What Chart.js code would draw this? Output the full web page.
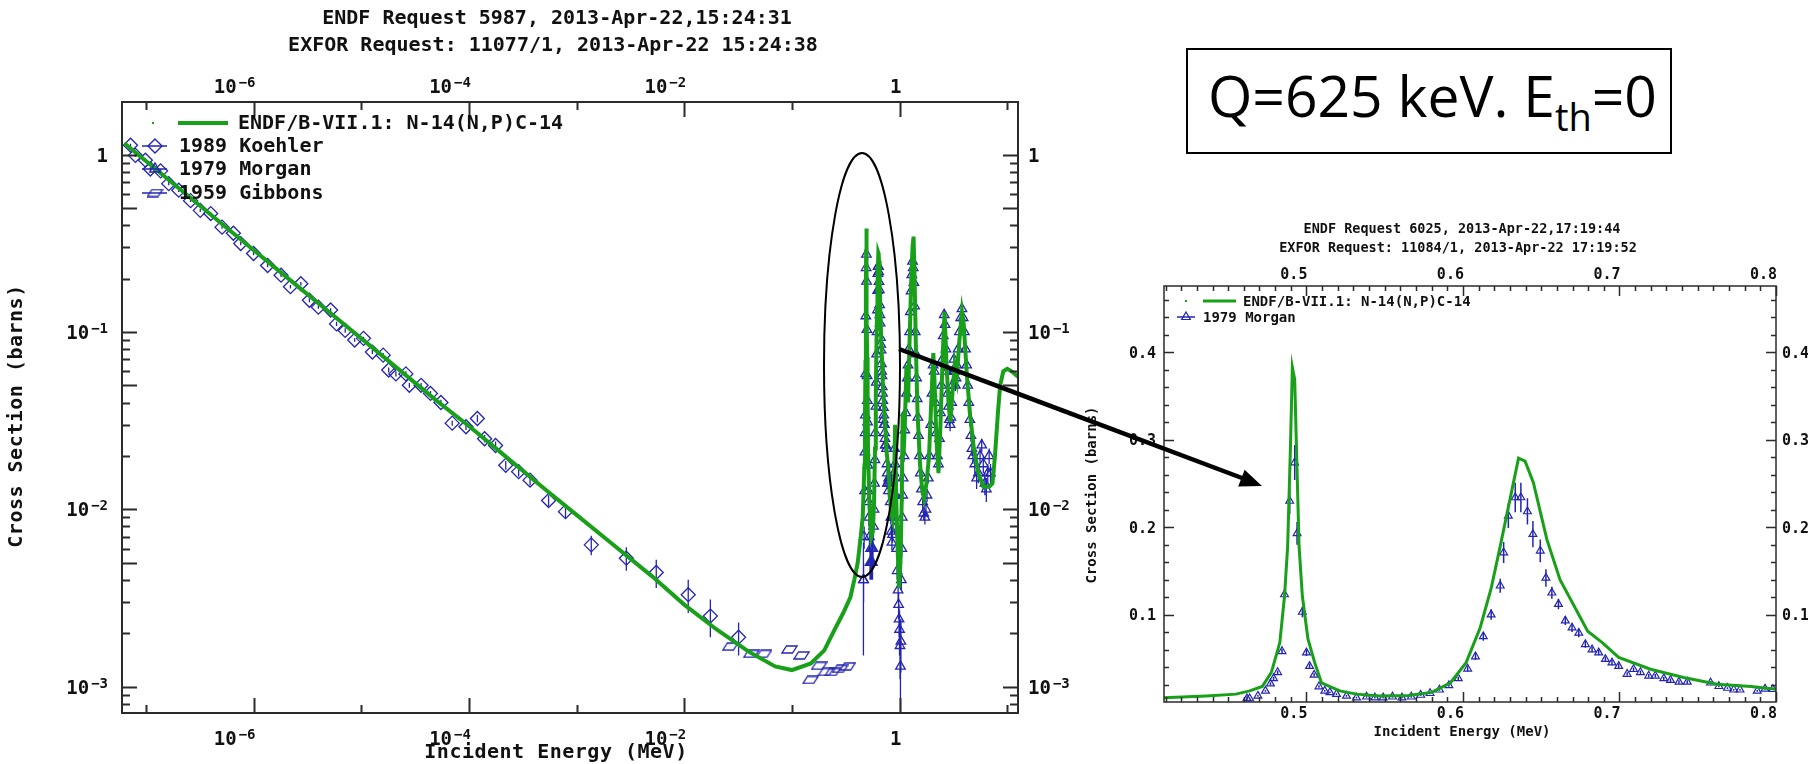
<!DOCTYPE html>
<html lang="en">
<head>
  <meta charset="UTF-8" />
  <title>N-14(n,p)C-14 cross section</title>
  <script src="https://cdn.jsdelivr.net/npm/chart.js"></script>
  <style>
    body { margin: 0; background: #fff; }
    #page { position: relative; width: 1808px; height: 764px; overflow: hidden; background: #fff; }
    #wide { position: absolute; left: 0; top: 0; }
    #zoom { position: absolute; left: 1080px; top: 200px; }
    #qbox { position: absolute; left: 1186px; top: 48px; width: 486px; height: 106px; border: 2px solid #000; box-sizing: border-box; }
    #qtext { position: absolute; left: 1208px; top: 67px; font: 57px/57px "Open Sans", "Noto Sans", sans-serif; white-space: nowrap; color: #000; }
    #qtext sub { font-size: 38px; line-height: 57px; vertical-align: -14px; }
    #marks { position: absolute; left: 0; top: 0; pointer-events: none; }
  </style>
</head>
<body>
<div id="page">
  <canvas id="wide" width="1100" height="764"></canvas>
  <canvas id="zoom" width="728" height="564"></canvas>
  <div id="qbox"></div>
  <div id="qtext">Q=625 keV. E<sub>th</sub>=0</div>
  <svg id="marks" width="1808" height="764">
    <ellipse cx="862" cy="365" rx="38" ry="212" fill="none" stroke="#000" stroke-width="2"/>
    <line x1="899" y1="349" x2="1242" y2="478" stroke="#000" stroke-width="4.5"/>
    <polygon points="1262,486 1244.6,469.8 1238.2,486.6" fill="#000"/>
  </svg>
</div>

<script>
  // ---- data: energy in MeV, cross section in barns ----
  // ENDF/B-VII.1 evaluated curve [E, xs]
  const endfCurve = [
    [6.3e-8, 1.16], [1e-7, 0.92], [2e-7, 0.65], [5e-7, 0.41], [1e-6, 0.29], [2e-6, 0.205],
    [5e-6, 0.13], [1e-5, 0.092], [2e-5, 0.065], [5e-5, 0.041], [1e-4, 0.0295], [2e-4, 0.0208],
    [5e-4, 0.0131], [1e-3, 0.0093], [2e-3, 0.0066], [5e-3, 0.0042], [1e-2, 0.0029], [2e-2, 0.0021],
    [4e-2, 0.00157], [7e-2, 0.0013], [0.1, 0.00124], [0.15, 0.00135], [0.2, 0.0016], [0.25, 0.0021],
    [0.3, 0.0026], [0.35, 0.0032], [0.38, 0.004], [0.409, 0.005], [0.436, 0.007], [0.455, 0.009],
    [0.4637, 0.0127], [0.4718, 0.0177], [0.4776, 0.034], [0.483, 0.068], [0.486, 0.121], [0.488, 0.178],
    [0.4898, 0.293], [0.491, 0.383], [0.4925, 0.369], [0.4936, 0.293], [0.4953, 0.178], [0.4974, 0.121],
    [0.501, 0.072], [0.5053, 0.045], [0.5096, 0.022], [0.5213, 0.0127], [0.532, 0.009], [0.547, 0.007],
    [0.565, 0.0075], [0.58, 0.011], [0.592, 0.022], [0.602, 0.045], [0.611, 0.085], [0.618, 0.13],
    [0.6238, 0.178], [0.6355, 0.279], [0.6397, 0.2755], [0.645, 0.251], [0.6536, 0.186], [0.662, 0.14],
    [0.6797, 0.081], [0.689, 0.068], [0.6995, 0.051], [0.7198, 0.0375], [0.741, 0.028], [0.7625, 0.0203],
    [0.784, 0.0177], [0.8, 0.0146], [0.83, 0.01], [0.86, 0.009], [0.89, 0.014], [0.91, 0.03],
    [0.93, 0.012], [0.96, 0.006], [0.99, 0.0036], [1.02, 0.005], [1.05, 0.012], [1.07, 0.035],
    [1.09, 0.02], [1.12, 0.03], [1.16, 0.065], [1.2, 0.04], [1.24, 0.09], [1.28, 0.18],
    [1.32, 0.3], [1.35, 0.345], [1.38, 0.2], [1.42, 0.08], [1.47, 0.035], [1.55, 0.018],
    [1.62, 0.013], [1.69, 0.0115], [1.78, 0.014], [1.88, 0.02], [1.97, 0.04], [2.06, 0.076],
    [2.12, 0.05], [2.2, 0.025], [2.3, 0.016], [2.4, 0.03], [2.52, 0.075], [2.62, 0.13],
    [2.72, 0.07], [2.85, 0.04], [2.96, 0.031], [3.1, 0.045], [3.25, 0.065], [3.4, 0.055],
    [3.6, 0.09], [3.8, 0.13], [3.95, 0.11], [4.2, 0.06], [4.5, 0.035], [4.9, 0.022],
    [5.4, 0.016], [6.0, 0.0134], [6.8, 0.0134], [7.3, 0.014], [7.7, 0.02], [8.2, 0.035],
    [8.6, 0.05], [9.2, 0.06], [10.0, 0.062], [11.0, 0.06], [12.6, 0.056]
  ];

  // 1989 Koehler [E, xs, err]
  const koehler = [
    [7.2e-8, 1.13, 0.02], [8.0e-8, 0.99, 0.02], [9.9e-8, 0.93, 0.02], [1.1e-7, 0.83, 0.02],
    [1.37e-7, 0.81, 0.02], [1.63e-7, 0.686, 0.015], [2.02e-7, 0.63, 0.015], [2.6e-7, 0.55, 0.01],
    [3.2e-7, 0.485, 0.01], [4.0e-7, 0.465, 0.01], [5.1e-7, 0.39, 0.008], [6.5e-7, 0.36, 0.008],
    [7.6e-7, 0.315, 0.007], [1.0e-6, 0.277, 0.006], [1.35e-6, 0.237, 0.005], [1.8e-6, 0.209, 0.005],
    [2.2e-6, 0.18, 0.004], [2.75e-6, 0.187, 0.004], [3.3e-6, 0.151, 0.004], [4.0e-6, 0.138, 0.003],
    [5.2e-6, 0.133, 0.003], [5.9e-6, 0.111, 0.003], [7.1e-6, 0.102, 0.003], [8.7e-6, 0.09, 0.002],
    [1.05e-5, 0.092, 0.002], [1.27e-5, 0.077, 0.002], [1.6e-5, 0.074, 0.002], [1.8e-5, 0.061, 0.002],
    [2.1e-5, 0.058, 0.002], [2.6e-5, 0.058, 0.002], [2.8e-5, 0.05, 0.0015], [3.6e-5, 0.05, 0.0015],
    [4.4e-5, 0.045, 0.0015], [5.5e-5, 0.04, 0.0015], [7.0e-5, 0.0306, 0.001], [9.4e-5, 0.0292, 0.0012],
    [1.2e-4, 0.0325, 0.0015], [1.4e-4, 0.025, 0.0012], [1.77e-4, 0.0229, 0.0012], [2.2e-4, 0.0177, 0.001],
    [2.9e-4, 0.0163, 0.001], [3.7e-4, 0.0146, 0.001], [5.5e-4, 0.0112, 0.0008], [7.9e-4, 0.0097, 0.0008],
    [1.37e-3, 0.0063, 0.0008], [2.9e-3, 0.0053, 0.0008], [5.5e-3, 0.0044, 0.0008], [1.09e-2, 0.0033, 0.0007],
    [1.75e-2, 0.0025, 0.0006], [3.2e-2, 0.0019, 0.0004]
  ];

  // 1979 Morgan [E, xs, err]
  const morgan = [
    [0.462, 0.004, 0.0025], [0.4637, 0.004, 0.001], [0.469, 0.007, 0.001], [0.4738, 0.0127, 0.001],
    [0.477, 0.021, 0.0015], [0.479, 0.027, 0.002], [0.4816, 0.034, 0.002], [0.4844, 0.058, 0.003],
    [0.486, 0.123, 0.005], [0.4893, 0.23, 0.015], [0.4925, 0.274, 0.02], [0.494, 0.193, 0.013],
    [0.4974, 0.103, 0.006], [0.5, 0.0565, 0.004], [0.502, 0.041, 0.003], [0.5049, 0.031, 0.002],
    [0.508, 0.0177, 0.0015], [0.5117, 0.0127, 0.001], [0.515, 0.011, 0.001], [0.5192, 0.009, 0.001],
    [0.5256, 0.007, 0.001], [0.532, 0.005, 0.001], [0.5384, 0.006, 0.001], [0.5437, 0.005, 0.001],
    [0.549, 0.005, 0.001], [0.555, 0.006, 0.001], [0.561, 0.005, 0.001], [0.567, 0.006, 0.001],
    [0.573, 0.008, 0.001], [0.579, 0.01, 0.001], [0.585, 0.014, 0.001], [0.591, 0.019, 0.0015],
    [0.597, 0.027, 0.002], [0.603, 0.038, 0.003], [0.608, 0.052, 0.004], [0.613, 0.075, 0.005],
    [0.618, 0.1, 0.006], [0.6238, 0.133, 0.008], [0.626, 0.171, 0.012], [0.629, 0.213, 0.014],
    [0.6334, 0.234, 0.017], [0.637, 0.234, 0.017], [0.6412, 0.218, 0.015], [0.6447, 0.192, 0.015],
    [0.6494, 0.173, 0.013], [0.653, 0.142, 0.01], [0.6568, 0.125, 0.007], [0.661, 0.112, 0.006],
    [0.6654, 0.093, 0.005], [0.6697, 0.085, 0.005], [0.674, 0.079, 0.005], [0.6782, 0.066, 0.004],
    [0.6825, 0.06, 0.003], [0.6867, 0.0565, 0.003], [0.691, 0.049, 0.003], [0.6952, 0.045, 0.003],
    [0.6995, 0.041, 0.003], [0.7049, 0.032, 0.002], [0.709, 0.0375, 0.002], [0.7134, 0.034, 0.002],
    [0.7187, 0.03, 0.002], [0.7229, 0.03, 0.002], [0.7283, 0.027, 0.002], [0.7326, 0.025, 0.002],
    [0.738, 0.023, 0.002], [0.7433, 0.023, 0.002], [0.7582, 0.022, 0.002], [0.7635, 0.018, 0.001],
    [0.769, 0.016, 0.001], [0.773, 0.014, 0.001], [0.777, 0.014, 0.001], [0.788, 0.0127, 0.001],
    [0.793, 0.015, 0.001], [0.798, 0.0146, 0.001],
    [0.81, 0.014, 0.001], [0.82, 0.011, 0.001], [0.83, 0.009, 0.0008], [0.84, 0.0075, 0.0007],
    [0.85, 0.0065, 0.0006], [0.86, 0.0072, 0.0007], [0.87, 0.009, 0.0008], [0.88, 0.012, 0.001],
    [0.89, 0.016, 0.0012], [0.9, 0.022, 0.0015], [0.91, 0.018, 0.0013], [0.92, 0.012, 0.001],
    [0.93, 0.008, 0.0008], [0.94, 0.006, 0.0006], [0.95, 0.0045, 0.0005], [0.97, 0.0035, 0.0005],
    [0.98, 0.0029, 0.0005], [0.99, 0.0024, 0.0005], [1.0, 0.0021, 0.0006], [1.01, 0.0017, 0.0006],
    [1.02, 0.0013, 0.0011], [1.03, 0.0018, 0.0006], [1.04, 0.004, 0.0005], [1.05, 0.006, 0.0006],
    [1.06, 0.009, 0.0008], [1.07, 0.012, 0.001], [1.08, 0.015, 0.001], [1.1, 0.02, 0.0015],
    [1.12, 0.028, 0.002], [1.14, 0.035, 0.0025], [1.16, 0.045, 0.003], [1.18, 0.055, 0.004],
    [1.2, 0.065, 0.005], [1.22, 0.08, 0.006], [1.24, 0.1, 0.007], [1.26, 0.13, 0.009],
    [1.28, 0.17, 0.012], [1.3, 0.21, 0.015], [1.32, 0.25, 0.018], [1.34, 0.23, 0.016],
    [1.36, 0.19, 0.013], [1.38, 0.14, 0.01], [1.4, 0.1, 0.007], [1.42, 0.075, 0.005],
    [1.44, 0.055, 0.004], [1.46, 0.042, 0.003], [1.48, 0.033, 0.0025], [1.5, 0.026, 0.002],
    [1.53, 0.02, 0.0015], [1.56, 0.016, 0.0012], [1.6, 0.013, 0.001], [1.64, 0.011, 0.0009],
    [1.68, 0.0095, 0.0008], [1.72, 0.009, 0.0008], [1.76, 0.01, 0.0008], [1.8, 0.012, 0.001],
    [1.85, 0.015, 0.001], [1.9, 0.02, 0.0015], [1.95, 0.03, 0.002], [2.0, 0.045, 0.003],
    [2.05, 0.065, 0.005], [2.1, 0.06, 0.004], [2.15, 0.04, 0.003], [2.2, 0.027, 0.002],
    [2.25, 0.02, 0.0015], [2.3, 0.018, 0.0015], [2.35, 0.025, 0.002], [2.4, 0.035, 0.0025],
    [2.45, 0.05, 0.0035], [2.5, 0.07, 0.005], [2.55, 0.095, 0.007], [2.6, 0.125, 0.009],
    [2.65, 0.11, 0.008], [2.7, 0.08, 0.006], [2.75, 0.06, 0.004], [2.8, 0.045, 0.003],
    [2.85, 0.038, 0.003], [2.9, 0.032, 0.0025], [2.95, 0.03, 0.0025], [3.0, 0.033, 0.0025],
    [3.05, 0.04, 0.003], [3.1, 0.05, 0.0035], [3.15, 0.06, 0.004], [3.2, 0.07, 0.005],
    [3.25, 0.06, 0.004], [3.3, 0.05, 0.0035], [3.35, 0.055, 0.004], [3.4, 0.065, 0.005],
    [3.5, 0.08, 0.006], [3.6, 0.1, 0.007], [3.7, 0.12, 0.008], [3.8, 0.135, 0.009],
    [3.9, 0.12, 0.008], [4.0, 0.1, 0.007], [4.1, 0.08, 0.006], [4.2, 0.065, 0.005],
    [4.3, 0.05, 0.004], [4.4, 0.04, 0.003], [4.5, 0.032, 0.0025], [4.6, 0.026, 0.002],
    [4.7, 0.022, 0.002], [4.8, 0.02, 0.002], [5.0, 0.018, 0.002], [5.2, 0.015, 0.002],
    [5.4, 0.016, 0.002], [5.6, 0.02, 0.002], [5.8, 0.023, 0.002], [6.0, 0.018, 0.002],
    [6.2, 0.014, 0.002], [6.4, 0.013, 0.002], [6.6, 0.016, 0.002], [6.8, 0.02, 0.002],
    [7.0, 0.016, 0.002]
  ];

  // 1959 Gibbons [E, xs]
  const gibbons = [
    [0.0268, 0.00168], [0.042, 0.00153], [0.055, 0.00153], [0.095, 0.00162], [0.123, 0.0015],
    [0.149, 0.00109], [0.179, 0.00131], [0.207, 0.00121], [0.24, 0.00121], [0.28, 0.00126], [0.33, 0.0013]
  ];

  // ---- axes ----
  const wideEnergyRange = [6.31e-8, 12.6];
  const wideXsRange = [7.1e-4, 1.98];
  const wideEnergyExps = [-7, -6, -5, -4, -3, -2, -1, 0, 1];
  const wideEnergyLabelExps = [-6, -4, -2, 0];
  const wideXsExps = [-4, -3, -2, -1, 0];
  const wideXsLabelExps = [-3, -2, -1, 0];
  const logMultipliers = [1, 2, 3, 4, 5, 6, 7, 8, 9];

  const zoomEnergyRange = [0.409, 0.8];
  const zoomXsRange = [0, 0.476];
  const zoomEnergyLabels = [0.5, 0.6, 0.7, 0.8];
  const zoomXsLabels = [0.1, 0.2, 0.3, 0.4];
  const zoomEnergyStep = 0.01;
  const zoomXsStep = 0.02;

  const wideTitles = ['ENDF Request 5987, 2013-Apr-22,15:24:31', 'EXFOR Request: 11077/1, 2013-Apr-22 15:24:38'];
  const zoomTitles = ['ENDF Request 6025, 2013-Apr-22,17:19:44', 'EXFOR Request: 11084/1, 2013-Apr-22 17:19:52'];
  const xTitle = 'Incident Energy (MeV)';
  const yTitle = 'Cross Section (barns)';

  const BLUE = '#2424b4';
  const GREEN = '#19a019';
  const INK = '#2b2b2b';
  const TEXT = '#111';
  const MONO = '"DejaVu Sans Mono", "Liberation Mono", monospace';
  const ZX = 1080, ZY = 200;   // page offset of the zoomed chart canvas

  const pts = arr => arr.map(p => ({ x: p[0], y: p[1], e: p[2] || 0 }));

  // parallelogram marker used by Gibbons
  const para = document.createElement('canvas');
  para.width = 17; para.height = 9;
  (function () {
    const c = para.getContext('2d');
    c.strokeStyle = BLUE; c.lineWidth = 1.3;
    c.beginPath(); c.moveTo(5.5, 1); c.lineTo(16, 1); c.lineTo(11.5, 8); c.lineTo(1, 8); c.closePath(); c.stroke();
  })();

  function logTicks(exps, range) {
    const out = [];
    exps.forEach(e => logMultipliers.forEach(m => {
      const v = m * Math.pow(10, e);
      if (v >= range[0] && v <= range[1]) out.push({ value: v });
    }));
    return out;
  }
  function stepTicks(range, step) {
    const out = [];
    for (let i = Math.ceil(range[0] / step - 1e-6); i * step <= range[1] + 1e-9; i++) {
      if (i > 0) out.push({ value: +(i * step).toFixed(4) });
    }
    return out;
  }
  function hiddenAxis(type, position, range, size, ticks) {
    const horiz = position === 'top' || position === 'bottom';
    return {
      type, position, min: range[0], max: range[1],
      grid: { display: false }, border: { display: false },
      ticks: { display: false }, title: { display: false },
      afterBuildTicks: s => { s.ticks = ticks.map(t => ({ value: t.value })); },
      afterFit: s => { if (horiz) s.height = size; else s.width = size; }
    };
  }

  function drawTickMarks(chart, lenFn, width) {
    const ctx = chart.ctx, a = chart.chartArea;
    ctx.save();
    ctx.strokeStyle = INK; ctx.lineWidth = width;
    ctx.beginPath();
    ['x', 'x2', 'y', 'y2'].forEach(id => {
      const s = chart.scales[id];
      s.ticks.forEach(t => {
        const L = lenFn(id, t.value);
        const p = Math.round(s.getPixelForValue(t.value)) + 0.5;
        if (id === 'x') { ctx.moveTo(p, a.bottom); ctx.lineTo(p, a.bottom - L); }
        if (id === 'x2') { ctx.moveTo(p, a.top); ctx.lineTo(p, a.top + L); }
        if (id === 'y') { ctx.moveTo(a.left, p); ctx.lineTo(a.left + L, p); }
        if (id === 'y2') { ctx.moveTo(a.right, p); ctx.lineTo(a.right - L, p); }
      });
    });
    ctx.stroke();
    ctx.strokeRect(a.left, a.top, a.right - a.left, a.bottom - a.top);
    ctx.restore();
  }

  function drawErrorBars(chart, width) {
    const ctx = chart.ctx, a = chart.chartArea, ys = chart.scales.y;
    ctx.save();
    ctx.beginPath(); ctx.rect(a.left, a.top, a.right - a.left, a.bottom - a.top); ctx.clip();
    ctx.strokeStyle = BLUE; ctx.lineWidth = width;
    chart.data.datasets.forEach((ds, i) => {
      if (!ds.errorBars) return;
      const meta = chart.getDatasetMeta(i);
      ctx.beginPath();
      meta.data.forEach((pt, j) => {
        const d = ds.data[j];
        if (!d.e) return;
        const lo = d.y - d.e;
        const yTop = ys.getPixelForValue(d.y + d.e);
        const yBot = lo > 0 ? ys.getPixelForValue(lo) : a.bottom + 10;
        ctx.moveTo(pt.x, yTop); ctx.lineTo(pt.x, yBot);
      });
      ctx.stroke();
    });
    ctx.restore();
  }

  // "10" with a raised exponent; align relative to x
  function drawPow(ctx, exp, x, baseY, align, big, small) {
    ctx.textBaseline = 'alphabetic';
    ctx.font = big;
    if (exp === 0) { ctx.textAlign = align; ctx.fillText('1', x, baseY); return; }
    const sup = (exp < 0 ? '\u2212' : '') + Math.abs(exp);
    const w1 = ctx.measureText('10').width;
    ctx.font = small;
    const w2 = ctx.measureText(sup).width;
    const left = align === 'right' ? x - w1 - w2 - 2 : x;
    ctx.textAlign = 'left';
    ctx.font = big; ctx.fillText('10', left, baseY);
    ctx.font = small; ctx.fillText(sup, left + w1 + 2, baseY - 6);
  }

  function marker(ctx, style, x, y, r) {
    ctx.beginPath();
    if (style === 'rectRot') {
      ctx.moveTo(x, y - r); ctx.lineTo(x + r, y); ctx.lineTo(x, y + r); ctx.lineTo(x - r, y); ctx.closePath();
      ctx.stroke();
    } else if (style === 'triangle') {
      ctx.moveTo(x, y - r); ctx.lineTo(x + r * 0.866, y + r / 2); ctx.lineTo(x - r * 0.866, y + r / 2); ctx.closePath();
      ctx.stroke();
    } else {
      ctx.drawImage(para, x - para.width / 2, y - para.height / 2);
    }
  }

  function centerText(ctx, text, x, y, font, rotate, spacing) {
    ctx.save();
    ctx.font = font; ctx.fillStyle = TEXT;
    ctx.textAlign = 'center'; ctx.textBaseline = 'middle';
    if (spacing) ctx.letterSpacing = spacing;
    ctx.translate(x, y);
    if (rotate) ctx.rotate(-Math.PI / 2);
    ctx.fillText(text, 0, 0);
    ctx.restore();
  }

  // ---- wide log-log chart ----
  const wideDecor = {
    id: 'wideDecor',
    beforeDatasetsDraw(chart) { drawErrorBars(chart, 1.3); },
    afterDraw(chart) {
      const ctx = chart.ctx, a = chart.chartArea;
      drawTickMarks(chart, (id, v) => {
        if (id[0] === 'x') return Math.round(Math.log10(v)) % 2 === 0 ? 15 : 8;
        const m = Math.round(v / Math.pow(10, Math.floor(Math.log10(v) + 1e-9)));
        return (m === 1 || m === 5) ? 15 : 8;
      }, 2);

      ctx.save();
      ctx.fillStyle = TEXT;
      const big = 'bold 19px ' + MONO, small = 'bold 14px ' + MONO;
      wideEnergyLabelExps.forEach(e => {
        const px = chart.scales.x.getPixelForValue(Math.pow(10, e));
        drawPow(ctx, e, px + 2, 93, 'right', big, small);
        drawPow(ctx, e, px + 2, 745, 'right', big, small);
      });
      wideXsLabelExps.forEach(e => {
        const py = chart.scales.y.getPixelForValue(Math.pow(10, e));
        drawPow(ctx, e, a.left - 14, py + 7, 'right', big, small);
        drawPow(ctx, e, a.right + 10, py + 7, 'left', big, small);
      });
      ctx.restore();

      centerText(ctx, wideTitles[0], 557, 19, 'bold 20px ' + MONO);
      centerText(ctx, wideTitles[1], 553, 46, 'bold 20px ' + MONO);
      centerText(ctx, xTitle, 556, 753, 'bold 20px ' + MONO, false, '0.5px');
      centerText(ctx, yTitle, 17, 416, 'bold 20px ' + MONO, true, '0.5px');

      // legend
      ctx.save();
      ctx.font = 'bold 20px ' + MONO; ctx.textBaseline = 'middle'; ctx.textAlign = 'left';
      ctx.fillStyle = GREEN; ctx.fillRect(152, 122, 2, 2);
      ctx.strokeStyle = GREEN; ctx.lineWidth = 4;
      ctx.beginPath(); ctx.moveTo(178, 123); ctx.lineTo(228, 123); ctx.stroke();
      ctx.fillStyle = TEXT;
      ctx.fillText(chart.data.datasets[0].label, 238, 124);
      const rows = [[1, 'rectRot', 146, 7], [2, 'triangle', 169, 6], [3, 'para', 193, 0]];
      rows.forEach(([i, st, y, r]) => {
        ctx.strokeStyle = BLUE; ctx.lineWidth = 1.5;
        ctx.beginPath(); ctx.moveTo(142, y); ctx.lineTo(167, y); ctx.stroke();
        ctx.lineWidth = 1.4;
        marker(ctx, st, 155, y, r);
        ctx.fillStyle = TEXT;
        ctx.fillText(chart.data.datasets[i].label, 179, y + 1);
      });
      ctx.restore();
    }
  };

  new Chart(document.getElementById('wide'), {
    type: 'scatter',
    data: {
      datasets: [
        { label: 'ENDF/B-VII.1: N-14(N,P)C-14', data: pts(endfCurve), showLine: true,
          borderColor: GREEN, borderWidth: 4, pointRadius: 0, order: 0 },
        { label: '1989 Koehler', data: pts(koehler), errorBars: true, pointStyle: 'rectRot', pointRadius: 7,
          pointBorderColor: BLUE, pointBorderWidth: 1.3, pointBackgroundColor: 'rgba(0,0,0,0)', order: 1 },
        { label: '1979 Morgan', data: pts(morgan), errorBars: true, pointStyle: 'triangle', pointRadius: 5.5,
          pointBorderColor: BLUE, pointBorderWidth: 1.3, pointBackgroundColor: 'rgba(0,0,0,0)', order: 2 },
        { label: '1959 Gibbons', data: pts(gibbons), pointStyle: para, pointRadius: 6,
          pointBorderColor: BLUE, order: 3 }
      ]
    },
    options: {
      responsive: false, animation: false, events: [],
      layout: { padding: 0 },
      plugins: { legend: { display: false }, tooltip: { enabled: false } },
      scales: {
        x: hiddenAxis('logarithmic', 'bottom', wideEnergyRange, 51,
          wideEnergyExps.map(e => ({ value: Math.pow(10, e) }))),
        x2: hiddenAxis('logarithmic', 'top', wideEnergyRange, 102,
          wideEnergyExps.map(e => ({ value: Math.pow(10, e) }))),
        y: hiddenAxis('logarithmic', 'left', wideXsRange, 122, logTicks(wideXsExps, wideXsRange)),
        y2: hiddenAxis('logarithmic', 'right', wideXsRange, 82, logTicks(wideXsExps, wideXsRange))
      }
    },
    plugins: [wideDecor]
  });

  // ---- zoomed linear chart ----
  const isMajor = v => Math.abs(v * 10 - Math.round(v * 10)) < 1e-6;
  const zoomDecor = {
    id: 'zoomDecor',
    beforeDatasetsDraw(chart) { drawErrorBars(chart, 1.5); },
    afterDraw(chart) {
      const ctx = chart.ctx, a = chart.chartArea;
      drawTickMarks(chart, (id, v) => isMajor(v) ? 10 : 5, 1.5);

      ctx.save();
      ctx.fillStyle = TEXT; ctx.font = 'bold 15px ' + MONO; ctx.textBaseline = 'alphabetic';
      zoomEnergyLabels.forEach(v => {
        const px = chart.scales.x.getPixelForValue(v);
        ctx.textAlign = 'right';
        ctx.fillText(v.toFixed(1), px + 1, 79);
        ctx.fillText(v.toFixed(1), px + 1, 518);
      });
      zoomXsLabels.forEach(v => {
        const py = chart.scales.y.getPixelForValue(v);
        ctx.textAlign = 'right'; ctx.fillText(v.toFixed(1), a.left - 8, py + 5.5);
        ctx.textAlign = 'left'; ctx.fillText(v.toFixed(1), a.right + 6, py + 5.5);
      });
      ctx.restore();

      ctx.save();
      ctx.translate(-ZX, -ZY);
      centerText(ctx, zoomTitles[0], 1462, 229, 'bold 13.5px ' + MONO);
      centerText(ctx, zoomTitles[1], 1458, 248, 'bold 13.5px ' + MONO);
      centerText(ctx, xTitle, 1462, 732, 'bold 14px ' + MONO);
      centerText(ctx, yTitle, 1092, 495, 'bold 14px ' + MONO, true);

      ctx.font = 'bold 14px ' + MONO; ctx.textBaseline = 'middle'; ctx.textAlign = 'left';
      ctx.fillStyle = GREEN; ctx.fillRect(1185, 300, 2, 2);
      ctx.strokeStyle = GREEN; ctx.lineWidth = 3;
      ctx.beginPath(); ctx.moveTo(1203, 301); ctx.lineTo(1236, 301); ctx.stroke();
      ctx.fillStyle = TEXT; ctx.fillText(chart.data.datasets[0].label, 1243, 302);
      ctx.strokeStyle = BLUE; ctx.lineWidth = 1.5;
      ctx.beginPath(); ctx.moveTo(1177, 317); ctx.lineTo(1195, 317); ctx.stroke();
      ctx.lineWidth = 1.2; marker(ctx, 'triangle', 1186, 317, 5);
      ctx.fillStyle = TEXT; ctx.fillText(chart.data.datasets[1].label, 1203, 318);
      ctx.restore();
    }
  };

  new Chart(document.getElementById('zoom'), {
    type: 'scatter',
    data: {
      datasets: [
        { label: 'ENDF/B-VII.1: N-14(N,P)C-14', data: pts(endfCurve), showLine: true,
          borderColor: GREEN, borderWidth: 3, pointRadius: 0, order: 0 },
        { label: '1979 Morgan', data: pts(morgan), errorBars: true, pointStyle: 'triangle', pointRadius: 4.5,
          pointBorderColor: BLUE, pointBorderWidth: 1.2, pointBackgroundColor: 'rgba(0,0,0,0)', order: 1 }
      ]
    },
    options: {
      responsive: false, animation: false, events: [],
      layout: { padding: 0 },
      plugins: { legend: { display: false }, tooltip: { enabled: false } },
      scales: {
        x: hiddenAxis('linear', 'bottom', zoomEnergyRange, 62, stepTicks(zoomEnergyRange, zoomEnergyStep)),
        x2: hiddenAxis('linear', 'top', zoomEnergyRange, 86, stepTicks(zoomEnergyRange, zoomEnergyStep)),
        y: hiddenAxis('linear', 'left', zoomXsRange, 84, stepTicks(zoomXsRange, zoomXsStep)),
        y2: hiddenAxis('linear', 'right', zoomXsRange, 32, stepTicks(zoomXsRange, zoomXsStep))
      }
    },
    plugins: [zoomDecor]
  });
</script>
</body>
</html>
